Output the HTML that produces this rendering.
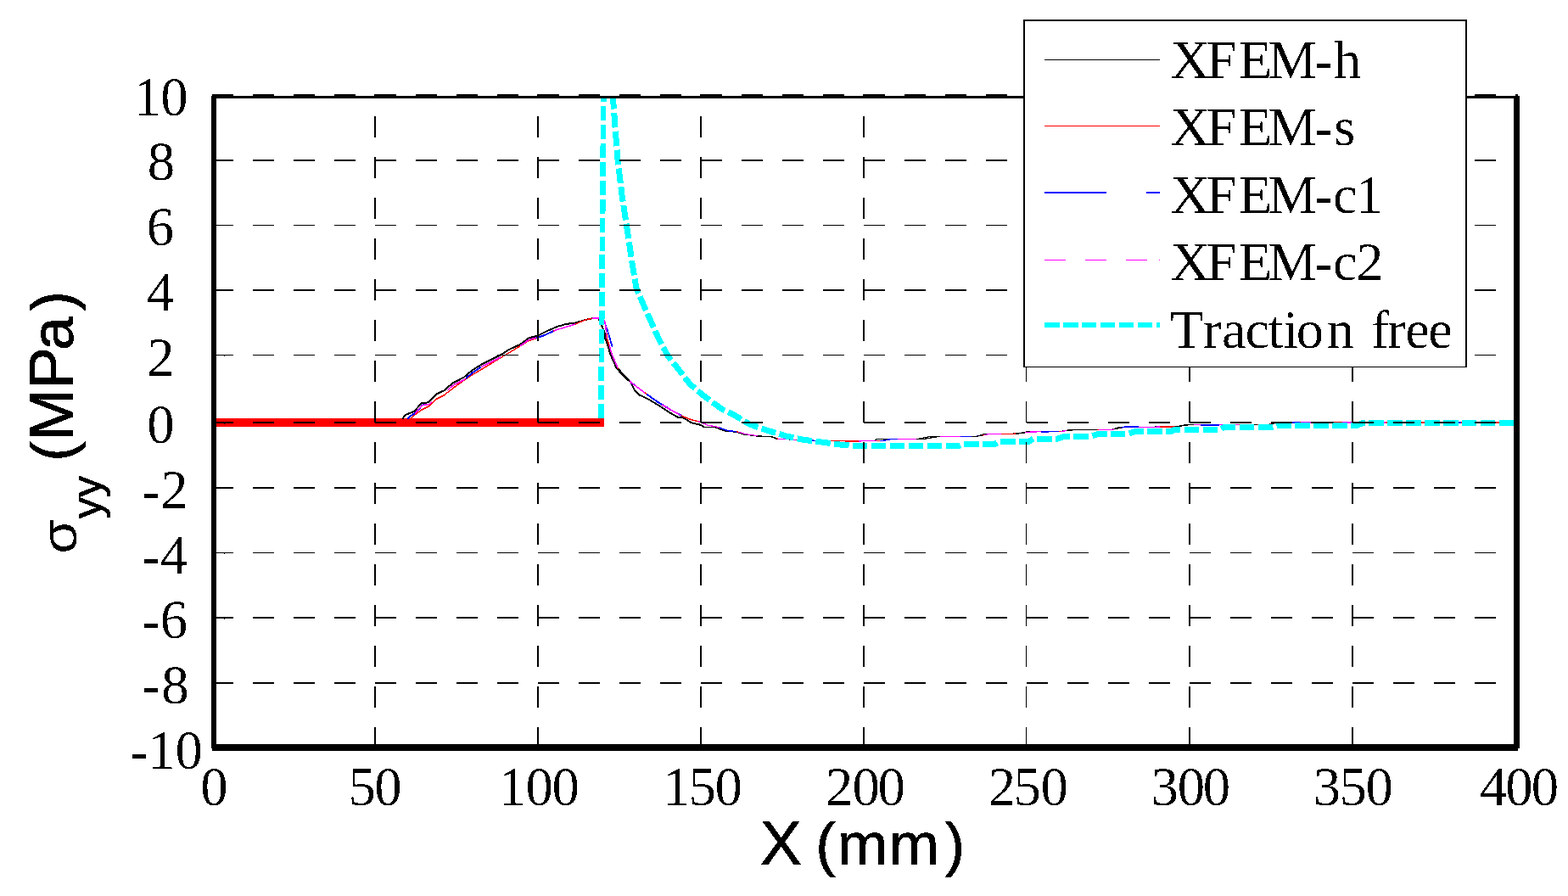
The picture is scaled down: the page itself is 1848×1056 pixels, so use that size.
<!DOCTYPE html>
<html lang="en"><head><meta charset="utf-8"><title>Stress along crack line</title>
<style>html,body{margin:0;padding:0;background:#fff}body{width:1848px;height:1056px}svg{display:block}</style>
</head><body>
<svg width="1848" height="1056" viewBox="0 0 1848 1056" role="img" aria-label="Stress versus X chart">
<defs><clipPath id="plot"><rect x="255" y="116" width="1529" height="761"/></clipPath><filter id="bin" x="0" y="0" width="1848" height="1056" filterUnits="userSpaceOnUse" color-interpolation-filters="sRGB"><feComponentTransfer><feFuncA type="discrete" tableValues="0 1"/></feComponentTransfer></filter><filter id="bin2" x="0" y="0" width="1848" height="1056" filterUnits="userSpaceOnUse" color-interpolation-filters="sRGB"><feComponentTransfer><feFuncA type="discrete" tableValues="0 0 0 1 1"/></feComponentTransfer></filter></defs>
<rect width="1848" height="1056" fill="#fff"/>
<g clip-path="url(#plot)" shape-rendering="crispEdges" fill="none">
<rect x="255" y="493" width="457" height="10" fill="#f00"/>
<clipPath id="cb"><rect x="480" y="116" width="10" height="761"/><rect x="492.5" y="116" width="10.8" height="761"/><rect x="549" y="116" width="18" height="761"/><rect x="632" y="116" width="20" height="761"/><rect x="743" y="116" width="5" height="761"/><rect x="762" y="116" width="29" height="761"/><rect x="800" y="116" width="3" height="761"/><rect x="848" y="116" width="20" height="761"/><rect x="956" y="116" width="5" height="761"/><rect x="1037" y="116" width="21" height="761"/><rect x="1132" y="116" width="21" height="761"/><rect x="1227" y="116" width="21" height="761"/><rect x="1320" y="116" width="22" height="761"/><rect x="1415" y="116" width="22" height="761"/><rect x="1523" y="116" width="9" height="761"/><rect x="1717" y="116" width="5" height="761"/></clipPath><clipPath id="cm"><rect x="489" y="116" width="20" height="761"/><rect x="527.5" y="116" width="20.8" height="761"/><rect x="567.5" y="116" width="22.5" height="761"/><rect x="613" y="116" width="19" height="761"/><rect x="653" y="116" width="25" height="761"/><rect x="698" y="116" width="9" height="761"/><rect x="712" y="116" width="3" height="761"/><rect x="718" y="116" width="10" height="761"/><rect x="741.7" y="116" width="18.3" height="761"/><rect x="780" y="116" width="22.5" height="761"/><rect x="823" y="116" width="25" height="761"/><rect x="870" y="116" width="23" height="761"/><rect x="917" y="116" width="21" height="761"/><rect x="1012" y="116" width="21" height="761"/><rect x="1058" y="116" width="25" height="761"/><rect x="1107" y="116" width="25" height="761"/><rect x="1160" y="116" width="20" height="761"/><rect x="1208" y="116" width="19" height="761"/><rect x="1250" y="116" width="12" height="761"/><rect x="1295" y="116" width="18" height="761"/><rect x="1342" y="116" width="25" height="761"/><rect x="1407" y="116" width="8" height="761"/><rect x="1437" y="116" width="6" height="761"/><rect x="1455" y="116" width="5" height="761"/><rect x="1498" y="116" width="5" height="761"/><rect x="1533" y="116" width="12" height="761"/><rect x="1582" y="116" width="11" height="761"/><rect x="1630" y="116" width="3" height="761"/><rect x="1783" y="116" width="2" height="761"/></clipPath><clipPath id="ck"><rect x="729" y="116" width="13" height="761"/><rect x="893" y="116" width="22" height="761"/><rect x="1080" y="116" width="28" height="761"/><rect x="1145" y="116" width="13" height="761"/><rect x="1197" y="116" width="11" height="761"/><rect x="1257" y="116" width="36" height="761"/><rect x="1313" y="116" width="9" height="761"/><rect x="1385" y="116" width="22" height="761"/><rect x="1477" y="116" width="5" height="761"/><rect x="1498" y="116" width="25" height="761"/><rect x="1545" y="116" width="27" height="761"/></clipPath>
<clipPath id="cl"><rect x="255" y="116" width="575" height="761"/></clipPath><clipPath id="cr"><rect x="830" y="116" width="954" height="761"/></clipPath>
<g clip-path="url(#cl)">
<path d="M474.2 493.5 L478.3 488.8 L488.3 484.7 L496.7 475.3 L505 474.2 L514.2 464.5 L523.3 460.3 L533.3 451.7 L546.7 444.7 L556.7 436.3 L566.7 430 L578.3 424.2 L590 418.3 L600 412 L613.3 405.8 L623.3 398.3 L633.3 395.8 L645 390 L656.7 385 L666.7 382 L678.3 380.5 L690 377 L698.3 375.2 L705 375 L709.2 384 L712.5 391.5 L713.3 399 L716.7 408.2 L719.2 417.3 L723.3 426.5 L726.7 434 L731.7 439.5 L743.3 450.8 L747.5 459.2 L754.2 465.8 L763.3 470 L771.7 475 L780 480 L788.3 485.8 L799.2 492 L805 492 L815 498.3 L825.8 500.8 L830 503.3 L841.7 503.3 L855 508.3 L868.3 509.2 L875 511.7 L893.3 514.2 L908.3 514.5 L915 517.2 L966.7 519.7 L1030 519.7 L1033.3 517.5 L1083 517.2 L1095 514.7 L1150 514.5 L1160 511.7 L1200 511 L1210 509 L1250 508.5 L1260 506.7 L1310 506.5 L1320 503.3 L1385 503 L1396.7 500.8 L1495 500.8 L1500 498 L1784 498" stroke="#000" stroke-width="2"/>
<path d="M484 493.5 L490 488 L497 483 L505 479 L514 470.5 L523 466 L540 453 L556.7 441.7 L568 435 L590 421.7 L610 409.7 L623 401.7 L640 395.8 L655 389 L676.7 382.5 L690 377 L698.3 375.2 L706 375 L712.5 378 L713.8 384 L714.6 391.5 L715.3 399 L718.5 408.2 L721 417.3 L725 426.5 L728.3 434 L733 440 L743.3 450.4 L759.2 462.5 L775.8 474.2 L788.3 481.7 L803.3 490 L813.3 494.2 L825.8 497.5 L834 501.2 L845 503 L857 507.5 L870 509 L878 511.5 L895 514 L910 514.8 L917 517.2 L966.7 519.7 L1010 520 L1040 519.5 L1050 517.5 L1090 517.2 L1105 514.7 L1150 514.5 L1165 511.7 L1200 511 L1215 509 L1250 508.5 L1265 506.7 L1310 506.5 L1325 503.3 L1385 503 L1400 500.8 L1495 500.8 L1505 498 L1784 498" stroke="#f00" stroke-width="1.5"/>
<path d="M480 493.5 L484 490 L489.3 487 L497.7 477.6 L506 476.5 L515.2 466.8 L524.3 462.6 L534.3 454 L547.7 447 L557.7 438.6 L567.7 432.3 L579.3 426.5 L591 420.6 L613.3 407.5 L623.3 400.5 L640 395.8 L655 389 L676.7 382.5 L690 377 L698.3 375.2 L706 375 L712.5 378 L713.8 384 L714.6 391.5 L715.3 399 L718.5 408.2 L721 417.3 L725 426.5 L728.3 434 L733 440 L743.3 450.4 L759.2 462.5 L775.8 474.2 L788.3 481.7 L803.3 490 L813.3 494.2 L825.8 497.5 L834 501.2 L845 503 L857 507.5 L870 509 L878 511.5 L895 514 L910 514.8 L917 517.2 L966.7 519.7 L1010 520 L1040 519.5 L1050 517.5 L1090 517.2 L1105 514.7 L1150 514.5 L1165 511.7 L1200 511 L1215 509 L1250 508.5 L1265 506.7 L1310 506.5 L1325 503.3 L1385 503 L1400 500.8 L1495 500.8 L1505 498 L1784 498" stroke="#00f" stroke-width="2" clip-path="url(#cb)"/>
<path d="M713.5 383 L715.8 389 L718.3 397.3 L721.7 409" stroke="#00f" stroke-width="1.8"/>
<path d="M480 493.5 L484 490 L489.3 487 L497.7 477.6 L506 476.5 L515.2 466.8 L524.3 462.6 L534.3 454 L547.7 447 L557.7 438.6 L567.7 432.3 L579.3 426.5 L591 420.6 L613.3 407.5 L623.3 400.5 L640 395.8 L655 389 L676.7 382.5 L690 377 L698.3 375.2 L706 375 L712.5 378 L713.8 384 L714.6 391.5 L715.3 399 L718.5 408.2 L721 417.3 L725 426.5 L728.3 434 L733 440 L743.3 450.4 L759.2 462.5 L775.8 474.2 L788.3 481.7 L803.3 490 L813.3 494.2 L825.8 497.5 L834 501.2 L845 503 L857 507.5 L870 509 L878 511.5 L895 514 L910 514.8 L917 517.2 L966.7 519.7 L1010 520 L1040 519.5 L1050 517.5 L1090 517.2 L1105 514.7 L1150 514.5 L1165 511.7 L1200 511 L1215 509 L1250 508.5 L1265 506.7 L1310 506.5 L1325 503.3 L1385 503 L1400 500.8 L1495 500.8 L1505 498 L1784 498" stroke="#f0f" stroke-width="1.6" clip-path="url(#cm)"/>
<path d="M480 493.5 L484 490 L489.3 487 L497.7 477.6 L506 476.5 L515.2 466.8 L524.3 462.6 L534.3 454 L547.7 447 L557.7 438.6 L567.7 432.3 L579.3 426.5 L591 420.6 L613.3 407.5 L623.3 400.5 L640 395.8 L655 389 L676.7 382.5 L690 377 L698.3 375.2 L706 375 L712.5 378 L713.8 384 L714.6 391.5 L715.3 399 L718.5 408.2 L721 417.3 L725 426.5 L728.3 434 L733 440 L743.3 450.4 L759.2 462.5 L775.8 474.2 L788.3 481.7 L803.3 490 L813.3 494.2 L825.8 497.5 L834 501.2 L845 503 L857 507.5 L870 509 L878 511.5 L895 514 L910 514.8 L917 517.2 L966.7 519.7 L1010 520 L1040 519.5 L1050 517.5 L1090 517.2 L1105 514.7 L1150 514.5 L1165 511.7 L1200 511 L1215 509 L1250 508.5 L1265 506.7 L1310 506.5 L1325 503.3 L1385 503 L1400 500.8 L1495 500.8 L1505 498 L1784 498" stroke="#000" stroke-width="2" clip-path="url(#ck)"/>
</g>
<g clip-path="url(#cr)">
<path d="M474.2 493.5 L478.3 488.8 L488.3 484.7 L496.7 475.3 L505 474.2 L514.2 464.5 L523.3 460.3 L533.3 451.7 L546.7 444.7 L556.7 436.3 L566.7 430 L578.3 424.2 L590 418.3 L600 412 L613.3 405.8 L623.3 398.3 L633.3 395.8 L645 390 L656.7 385 L666.7 382 L678.3 380.5 L690 377 L698.3 375.2 L705 375 L709.2 384 L712.5 391.5 L713.3 399 L716.7 408.2 L719.2 417.3 L723.3 426.5 L726.7 434 L731.7 439.5 L743.3 450.8 L747.5 459.2 L754.2 465.8 L763.3 470 L771.7 475 L780 480 L788.3 485.8 L799.2 492 L805 492 L815 498.3 L825.8 500.8 L830 503.3 L841.7 503.3 L855 508.3 L868.3 509.2 L875 511.7 L893.3 514.2 L908.3 514.5 L915 517.2 L966.7 519.7 L1030 519.7 L1033.3 517.5 L1083 517.2 L1095 514.7 L1150 514.5 L1160 511.7 L1200 511 L1210 509 L1250 508.5 L1260 506.7 L1310 506.5 L1320 503.3 L1385 503 L1396.7 500.8 L1495 500.8 L1500 498 L1784 498" stroke="#000" stroke-width="1.2"/>
<path d="M484 493.5 L490 488 L497 483 L505 479 L514 470.5 L523 466 L540 453 L556.7 441.7 L568 435 L590 421.7 L610 409.7 L623 401.7 L640 395.8 L655 389 L676.7 382.5 L690 377 L698.3 375.2 L706 375 L712.5 378 L713.8 384 L714.6 391.5 L715.3 399 L718.5 408.2 L721 417.3 L725 426.5 L728.3 434 L733 440 L743.3 450.4 L759.2 462.5 L775.8 474.2 L788.3 481.7 L803.3 490 L813.3 494.2 L825.8 497.5 L834 501.2 L845 503 L857 507.5 L870 509 L878 511.5 L895 514 L910 514.8 L917 517.2 L966.7 519.7 L1010 520 L1040 519.5 L1050 517.5 L1090 517.2 L1105 514.7 L1150 514.5 L1165 511.7 L1200 511 L1215 509 L1250 508.5 L1265 506.7 L1310 506.5 L1325 503.3 L1385 503 L1400 500.8 L1495 500.8 L1505 498 L1784 498" stroke="#f00" stroke-width="1.2"/>
<path d="M480 493.5 L484 490 L489.3 487 L497.7 477.6 L506 476.5 L515.2 466.8 L524.3 462.6 L534.3 454 L547.7 447 L557.7 438.6 L567.7 432.3 L579.3 426.5 L591 420.6 L613.3 407.5 L623.3 400.5 L640 395.8 L655 389 L676.7 382.5 L690 377 L698.3 375.2 L706 375 L712.5 378 L713.8 384 L714.6 391.5 L715.3 399 L718.5 408.2 L721 417.3 L725 426.5 L728.3 434 L733 440 L743.3 450.4 L759.2 462.5 L775.8 474.2 L788.3 481.7 L803.3 490 L813.3 494.2 L825.8 497.5 L834 501.2 L845 503 L857 507.5 L870 509 L878 511.5 L895 514 L910 514.8 L917 517.2 L966.7 519.7 L1010 520 L1040 519.5 L1050 517.5 L1090 517.2 L1105 514.7 L1150 514.5 L1165 511.7 L1200 511 L1215 509 L1250 508.5 L1265 506.7 L1310 506.5 L1325 503.3 L1385 503 L1400 500.8 L1495 500.8 L1505 498 L1784 498" stroke="#00f" stroke-width="1.6" clip-path="url(#cb)"/>
<path d="M480 493.5 L484 490 L489.3 487 L497.7 477.6 L506 476.5 L515.2 466.8 L524.3 462.6 L534.3 454 L547.7 447 L557.7 438.6 L567.7 432.3 L579.3 426.5 L591 420.6 L613.3 407.5 L623.3 400.5 L640 395.8 L655 389 L676.7 382.5 L690 377 L698.3 375.2 L706 375 L712.5 378 L713.8 384 L714.6 391.5 L715.3 399 L718.5 408.2 L721 417.3 L725 426.5 L728.3 434 L733 440 L743.3 450.4 L759.2 462.5 L775.8 474.2 L788.3 481.7 L803.3 490 L813.3 494.2 L825.8 497.5 L834 501.2 L845 503 L857 507.5 L870 509 L878 511.5 L895 514 L910 514.8 L917 517.2 L966.7 519.7 L1010 520 L1040 519.5 L1050 517.5 L1090 517.2 L1105 514.7 L1150 514.5 L1165 511.7 L1200 511 L1215 509 L1250 508.5 L1265 506.7 L1310 506.5 L1325 503.3 L1385 503 L1400 500.8 L1495 500.8 L1505 498 L1784 498" stroke="#f0f" stroke-width="1.2" clip-path="url(#cm)"/>
<path d="M480 493.5 L484 490 L489.3 487 L497.7 477.6 L506 476.5 L515.2 466.8 L524.3 462.6 L534.3 454 L547.7 447 L557.7 438.6 L567.7 432.3 L579.3 426.5 L591 420.6 L613.3 407.5 L623.3 400.5 L640 395.8 L655 389 L676.7 382.5 L690 377 L698.3 375.2 L706 375 L712.5 378 L713.8 384 L714.6 391.5 L715.3 399 L718.5 408.2 L721 417.3 L725 426.5 L728.3 434 L733 440 L743.3 450.4 L759.2 462.5 L775.8 474.2 L788.3 481.7 L803.3 490 L813.3 494.2 L825.8 497.5 L834 501.2 L845 503 L857 507.5 L870 509 L878 511.5 L895 514 L910 514.8 L917 517.2 L966.7 519.7 L1010 520 L1040 519.5 L1050 517.5 L1090 517.2 L1105 514.7 L1150 514.5 L1165 511.7 L1200 511 L1215 509 L1250 508.5 L1265 506.7 L1310 506.5 L1325 503.3 L1385 503 L1400 500.8 L1495 500.8 L1505 498 L1784 498" stroke="#000" stroke-width="1.3" clip-path="url(#ck)"/>
</g>
<path d="M708.3 493 L711.3 111" stroke="#0ff" stroke-width="6.6" stroke-dasharray="17 4.94"/>
<path d="M722.1 111 L722.5 116 L725 150 L728 188 L733 230 L740 276 L745 310 L750 340 L760.5 364 L776.7 400 L787.5 420 L801 437 L813 452.5 L827.5 465 L850 481.7 L866.7 490 L883.3 500 L905 507.5 L926.7 514 L946.7 518.3 L966.7 520.8 L990 524 L1008 525.5 L1130 525.5 L1135 523 L1173 523 L1178 520 L1213 520 L1218 517 L1246.7 517 L1255 514 L1286.7 514 L1295 511.3 L1330 511.3 L1336.7 508.8 L1380 508.5 L1385 506.2 L1438 506.2 L1443 503.3 L1500 503.3 L1505 501.2 L1600 501.2 L1607 498 L1786 498" stroke="#0ff" stroke-width="7" stroke-dasharray="17.6 4.34"/>
</g>
<g shape-rendering="crispEdges" fill="#000">
<path d="M250 111h25v2h-25zM298 111h25v2h-25zM346 111h25v2h-25zM394 111h25v2h-25zM442 111h25v2h-25zM490 111h25v2h-25zM538 111h25v2h-25zM586 111h25v2h-25zM634 111h25v2h-25zM682 111h25v2h-25zM730 111h25v2h-25zM778 111h25v2h-25zM826 111h25v2h-25zM874 111h25v2h-25zM922 111h25v2h-25zM970 111h25v2h-25zM1018 111h25v2h-25zM1066 111h25v2h-25zM1114 111h25v2h-25zM1162 111h25v2h-25zM1210 111h25v2h-25zM1258 111h25v2h-25zM1306 111h25v2h-25zM1354 111h25v2h-25zM1402 111h25v2h-25zM1450 111h25v2h-25zM1498 111h25v2h-25zM1546 111h25v2h-25zM1594 111h25v2h-25zM1642 111h25v2h-25zM1690 111h25v2h-25zM1738 111h25v2h-25zM250 188h25v2h-25zM298 188h25v2h-25zM346 188h25v2h-25zM394 188h25v2h-25zM442 188h25v2h-25zM490 188h25v2h-25zM538 188h25v2h-25zM586 188h25v2h-25zM634 188h25v2h-25zM682 188h25v2h-25zM730 188h25v2h-25zM778 188h25v2h-25zM826 188h25v2h-25zM874 188h25v2h-25zM922 188h25v2h-25zM970 188h25v2h-25zM1018 188h25v2h-25zM1066 188h25v2h-25zM1114 188h25v2h-25zM1162 188h25v2h-25zM1210 188h25v2h-25zM1258 188h25v2h-25zM1306 188h25v2h-25zM1354 188h25v2h-25zM1402 188h25v2h-25zM1450 188h25v2h-25zM1498 188h25v2h-25zM1546 188h25v2h-25zM1594 188h25v2h-25zM1642 188h25v2h-25zM1690 188h25v2h-25zM1738 188h25v2h-25zM250 265h25v1h-25zM298 265h25v1h-25zM346 265h25v1h-25zM394 265h25v1h-25zM442 265h25v1h-25zM490 265h25v1h-25zM538 265h25v1h-25zM586 265h25v1h-25zM634 265h25v1h-25zM682 265h25v1h-25zM730 265h25v1h-25zM778 265h25v1h-25zM826 265h25v1h-25zM874 265h25v1h-25zM922 265h25v1h-25zM970 265h25v1h-25zM1018 265h25v1h-25zM1066 265h25v1h-25zM1114 265h25v1h-25zM1162 265h25v1h-25zM1210 265h25v1h-25zM1258 265h25v1h-25zM1306 265h25v1h-25zM1354 265h25v1h-25zM1402 265h25v1h-25zM1450 265h25v1h-25zM1498 265h25v1h-25zM1546 265h25v1h-25zM1594 265h25v1h-25zM1642 265h25v1h-25zM1690 265h25v1h-25zM1738 265h25v1h-25zM250 341h25v2h-25zM298 341h25v2h-25zM346 341h25v2h-25zM394 341h25v2h-25zM442 341h25v2h-25zM490 341h25v2h-25zM538 341h25v2h-25zM586 341h25v2h-25zM634 341h25v2h-25zM682 341h25v2h-25zM730 341h25v2h-25zM778 341h25v2h-25zM826 341h25v2h-25zM874 341h25v2h-25zM922 341h25v2h-25zM970 341h25v2h-25zM1018 341h25v2h-25zM1066 341h25v2h-25zM1114 341h25v2h-25zM1162 341h25v2h-25zM1210 341h25v2h-25zM1258 341h25v2h-25zM1306 341h25v2h-25zM1354 341h25v2h-25zM1402 341h25v2h-25zM1450 341h25v2h-25zM1498 341h25v2h-25zM1546 341h25v2h-25zM1594 341h25v2h-25zM1642 341h25v2h-25zM1690 341h25v2h-25zM1738 341h25v2h-25zM250 418h25v1h-25zM298 418h25v1h-25zM346 418h25v1h-25zM394 418h25v1h-25zM442 418h25v1h-25zM490 418h25v1h-25zM538 418h25v1h-25zM586 418h25v1h-25zM634 418h25v1h-25zM682 418h25v1h-25zM730 418h25v1h-25zM778 418h25v1h-25zM826 418h25v1h-25zM874 418h25v1h-25zM922 418h25v1h-25zM970 418h25v1h-25zM1018 418h25v1h-25zM1066 418h25v1h-25zM1114 418h25v1h-25zM1162 418h25v1h-25zM1210 418h25v1h-25zM1258 418h25v1h-25zM1306 418h25v1h-25zM1354 418h25v1h-25zM1402 418h25v1h-25zM1450 418h25v1h-25zM1498 418h25v1h-25zM1546 418h25v1h-25zM1594 418h25v1h-25zM1642 418h25v1h-25zM1690 418h25v1h-25zM1738 418h25v1h-25zM250 497h25v2h-25zM298 497h25v2h-25zM346 497h25v2h-25zM394 497h25v2h-25zM442 497h25v2h-25zM490 497h25v2h-25zM538 497h25v2h-25zM586 497h25v2h-25zM634 497h25v2h-25zM682 497h25v2h-25zM730 497h25v2h-25zM778 497h25v2h-25zM826 497h25v2h-25zM874 497h25v2h-25zM922 497h25v2h-25zM970 497h25v2h-25zM1018 497h25v2h-25zM1066 497h25v2h-25zM1114 497h25v2h-25zM1162 497h25v2h-25zM1210 497h25v2h-25zM1258 497h25v2h-25zM1306 497h25v2h-25zM1354 497h25v2h-25zM1402 497h25v2h-25zM1450 497h25v2h-25zM1498 497h25v2h-25zM1546 497h25v2h-25zM1594 497h25v2h-25zM1642 497h25v2h-25zM1690 497h25v2h-25zM1738 497h25v2h-25zM250 574h25v2h-25zM298 574h25v2h-25zM346 574h25v2h-25zM394 574h25v2h-25zM442 574h25v2h-25zM490 574h25v2h-25zM538 574h25v2h-25zM586 574h25v2h-25zM634 574h25v2h-25zM682 574h25v2h-25zM730 574h25v2h-25zM778 574h25v2h-25zM826 574h25v2h-25zM874 574h25v2h-25zM922 574h25v2h-25zM970 574h25v2h-25zM1018 574h25v2h-25zM1066 574h25v2h-25zM1114 574h25v2h-25zM1162 574h25v2h-25zM1210 574h25v2h-25zM1258 574h25v2h-25zM1306 574h25v2h-25zM1354 574h25v2h-25zM1402 574h25v2h-25zM1450 574h25v2h-25zM1498 574h25v2h-25zM1546 574h25v2h-25zM1594 574h25v2h-25zM1642 574h25v2h-25zM1690 574h25v2h-25zM1738 574h25v2h-25zM250 651h25v1h-25zM298 651h25v1h-25zM346 651h25v1h-25zM394 651h25v1h-25zM442 651h25v1h-25zM490 651h25v1h-25zM538 651h25v1h-25zM586 651h25v1h-25zM634 651h25v1h-25zM682 651h25v1h-25zM730 651h25v1h-25zM778 651h25v1h-25zM826 651h25v1h-25zM874 651h25v1h-25zM922 651h25v1h-25zM970 651h25v1h-25zM1018 651h25v1h-25zM1066 651h25v1h-25zM1114 651h25v1h-25zM1162 651h25v1h-25zM1210 651h25v1h-25zM1258 651h25v1h-25zM1306 651h25v1h-25zM1354 651h25v1h-25zM1402 651h25v1h-25zM1450 651h25v1h-25zM1498 651h25v1h-25zM1546 651h25v1h-25zM1594 651h25v1h-25zM1642 651h25v1h-25zM1690 651h25v1h-25zM1738 651h25v1h-25zM250 727h25v2h-25zM298 727h25v2h-25zM346 727h25v2h-25zM394 727h25v2h-25zM442 727h25v2h-25zM490 727h25v2h-25zM538 727h25v2h-25zM586 727h25v2h-25zM634 727h25v2h-25zM682 727h25v2h-25zM730 727h25v2h-25zM778 727h25v2h-25zM826 727h25v2h-25zM874 727h25v2h-25zM922 727h25v2h-25zM970 727h25v2h-25zM1018 727h25v2h-25zM1066 727h25v2h-25zM1114 727h25v2h-25zM1162 727h25v2h-25zM1210 727h25v2h-25zM1258 727h25v2h-25zM1306 727h25v2h-25zM1354 727h25v2h-25zM1402 727h25v2h-25zM1450 727h25v2h-25zM1498 727h25v2h-25zM1546 727h25v2h-25zM1594 727h25v2h-25zM1642 727h25v2h-25zM1690 727h25v2h-25zM1738 727h25v2h-25zM250 804h25v2h-25zM298 804h25v2h-25zM346 804h25v2h-25zM394 804h25v2h-25zM442 804h25v2h-25zM490 804h25v2h-25zM538 804h25v2h-25zM586 804h25v2h-25zM634 804h25v2h-25zM682 804h25v2h-25zM730 804h25v2h-25zM778 804h25v2h-25zM826 804h25v2h-25zM874 804h25v2h-25zM922 804h25v2h-25zM970 804h25v2h-25zM1018 804h25v2h-25zM1066 804h25v2h-25zM1114 804h25v2h-25zM1162 804h25v2h-25zM1210 804h25v2h-25zM1258 804h25v2h-25zM1306 804h25v2h-25zM1354 804h25v2h-25zM1402 804h25v2h-25zM1450 804h25v2h-25zM1498 804h25v2h-25zM1546 804h25v2h-25zM1594 804h25v2h-25zM1642 804h25v2h-25zM1690 804h25v2h-25zM1738 804h25v2h-25zM441 111h2v3h-2zM441 137h2v25h-2zM441 185h2v25h-2zM441 233h2v25h-2zM441 281h2v25h-2zM441 329h2v25h-2zM441 377h2v25h-2zM441 425h2v25h-2zM441 473h2v25h-2zM441 521h2v25h-2zM441 569h2v25h-2zM441 617h2v25h-2zM441 665h2v25h-2zM441 713h2v25h-2zM441 761h2v25h-2zM441 809h2v25h-2zM441 857h2v25h-2zM633 111h2v3h-2zM633 137h2v25h-2zM633 185h2v25h-2zM633 233h2v25h-2zM633 281h2v25h-2zM633 329h2v25h-2zM633 377h2v25h-2zM633 425h2v25h-2zM633 473h2v25h-2zM633 521h2v25h-2zM633 569h2v25h-2zM633 617h2v25h-2zM633 665h2v25h-2zM633 713h2v25h-2zM633 761h2v25h-2zM633 809h2v25h-2zM633 857h2v25h-2zM825 111h2v3h-2zM825 137h2v25h-2zM825 185h2v25h-2zM825 233h2v25h-2zM825 281h2v25h-2zM825 329h2v25h-2zM825 377h2v25h-2zM825 425h2v25h-2zM825 473h2v25h-2zM825 521h2v25h-2zM825 569h2v25h-2zM825 617h2v25h-2zM825 665h2v25h-2zM825 713h2v25h-2zM825 761h2v25h-2zM825 809h2v25h-2zM825 857h2v25h-2zM1017 111h2v3h-2zM1017 137h2v25h-2zM1017 185h2v25h-2zM1017 233h2v25h-2zM1017 281h2v25h-2zM1017 329h2v25h-2zM1017 377h2v25h-2zM1017 425h2v25h-2zM1017 473h2v25h-2zM1017 521h2v25h-2zM1017 569h2v25h-2zM1017 617h2v25h-2zM1017 665h2v25h-2zM1017 713h2v25h-2zM1017 761h2v25h-2zM1017 809h2v25h-2zM1017 857h2v25h-2zM1209 111h1v3h-1zM1209 137h1v25h-1zM1209 185h1v25h-1zM1209 233h1v25h-1zM1209 281h1v25h-1zM1209 329h1v25h-1zM1209 377h1v25h-1zM1209 425h1v25h-1zM1209 473h1v25h-1zM1209 521h1v25h-1zM1209 569h1v25h-1zM1209 617h1v25h-1zM1209 665h1v25h-1zM1209 713h1v25h-1zM1209 761h1v25h-1zM1209 809h1v25h-1zM1209 857h1v25h-1zM1401 111h2v3h-2zM1401 137h2v25h-2zM1401 185h2v25h-2zM1401 233h2v25h-2zM1401 281h2v25h-2zM1401 329h2v25h-2zM1401 377h2v25h-2zM1401 425h2v25h-2zM1401 473h2v25h-2zM1401 521h2v25h-2zM1401 569h2v25h-2zM1401 617h2v25h-2zM1401 665h2v25h-2zM1401 713h2v25h-2zM1401 761h2v25h-2zM1401 809h2v25h-2zM1401 857h2v25h-2zM1593 111h2v3h-2zM1593 137h2v25h-2zM1593 185h2v25h-2zM1593 233h2v25h-2zM1593 281h2v25h-2zM1593 329h2v25h-2zM1593 377h2v25h-2zM1593 425h2v25h-2zM1593 473h2v25h-2zM1593 521h2v25h-2zM1593 569h2v25h-2zM1593 617h2v25h-2zM1593 665h2v25h-2zM1593 713h2v25h-2zM1593 761h2v25h-2zM1593 809h2v25h-2zM1593 857h2v25h-2zM1786 111h3v2h-3zM264 419h1v1h-1zM264 499h1v1h-1zM264 652h1v1h-1zM264 729h1v1h-1z"/>
<rect x="249" y="113" width="6" height="769" fill="#000"/>
<rect x="1784" y="113" width="7" height="769" fill="#000"/>
<rect x="249" y="113" width="1542" height="3" fill="#000"/>
<rect x="250" y="877" width="1539" height="8" fill="#000"/>
</g>
<g shape-rendering="crispEdges">
<rect x="1206" y="23" width="523" height="410" fill="#000"/>
<rect x="1208" y="25" width="519" height="407" fill="#fff"/>
<rect x="1231" y="70" width="136" height="1" fill="#000"/>
<rect x="1231" y="148" width="136" height="1" fill="#f00"/>
<rect x="1231" y="226" width="73" height="2" fill="#00f"/>
<rect x="1351" y="226" width="16" height="2" fill="#00f"/>
<rect x="1231" y="306" width="25" height="1" fill="#f0f"/>
<rect x="1279" y="306" width="25" height="1" fill="#f0f"/>
<rect x="1327" y="306" width="25" height="1" fill="#f0f"/>
<rect x="1366" y="306" width="1" height="1" fill="#f0f"/>
<rect x="1231" y="380" width="18" height="6" fill="#0ff"/>
<rect x="1253" y="380" width="18" height="6" fill="#0ff"/>
<rect x="1275" y="380" width="17" height="6" fill="#0ff"/>
<rect x="1297" y="380" width="17" height="6" fill="#0ff"/>
<rect x="1319" y="380" width="17" height="6" fill="#0ff"/>
<rect x="1341" y="380" width="17" height="6" fill="#0ff"/>
<rect x="1363" y="380" width="4" height="6" fill="#0ff"/>
</g>
<g fill="#000" filter="url(#bin2)">
<text x="1379.42 1421.38 1460.01 1494.38 1549.3 1571.91" y="92.2 92.2 92.2 92.2 93.1 92.2" font-family="'Liberation Serif', 'Times New Roman', Times, serif" font-size="64.4">XFEM-h</text>
<text x="1379.42 1421.38 1460.01 1494.38 1549.3 1572.16" y="171.3 171.3 171.3 171.3 172.2 171.3" font-family="'Liberation Serif', 'Times New Roman', Times, serif" font-size="64.4">XFEM-s</text>
<text x="1379.42 1421.38 1460.01 1494.38 1549.3 1571.07 1597.75" y="250.7 250.7 250.7 250.7 251.6 250.7 250.7" font-family="'Liberation Serif', 'Times New Roman', Times, serif" font-size="64.4">XFEM-c1</text>
<text x="1379.42 1421.38 1460.01 1494.38 1549.3 1571.07 1598.26" y="329.7 329.7 329.7 329.7 330.6 329.7 329.7" font-family="'Liberation Serif', 'Times New Roman', Times, serif" font-size="64.4">XFEM-c2</text>
<text x="1379.03 1418.12 1440.02 1467.57 1494.43 1512.24 1527.65 1563.65 1600 1615.79 1635.17 1656.37 1683.22" y="410.3" font-family="'Liberation Serif', 'Times New Roman', Times, serif" font-size="64.4">Traction free</text>
<text x="157.75 189.3" y="136" font-family="'Liberation Serif', 'Times New Roman', Times, serif" font-size="64.8">10</text>
<text x="173.8" y="211.7" font-family="'Liberation Serif', 'Times New Roman', Times, serif" font-size="64.8">8</text>
<text x="172.77" y="289" font-family="'Liberation Serif', 'Times New Roman', Times, serif" font-size="64.8">6</text>
<text x="172.67" y="366" font-family="'Liberation Serif', 'Times New Roman', Times, serif" font-size="64.8">4</text>
<text x="173.31" y="443.3" font-family="'Liberation Serif', 'Times New Roman', Times, serif" font-size="64.8">2</text>
<text x="173.35" y="521.7" font-family="'Liberation Serif', 'Times New Roman', Times, serif" font-size="64.8">0</text>
<text x="167.08 189.16" y="600.1 599.2" font-family="'Liberation Serif', 'Times New Roman', Times, serif" font-size="64.8">-2</text>
<text x="167.08 188.67" y="677.2 676.3" font-family="'Liberation Serif', 'Times New Roman', Times, serif" font-size="64.8">-4</text>
<text x="167.08 188.77" y="752.6 751.7" font-family="'Liberation Serif', 'Times New Roman', Times, serif" font-size="64.8">-6</text>
<text x="167.08 190.2" y="829.4 828.5" font-family="'Liberation Serif', 'Times New Roman', Times, serif" font-size="64.8">-8</text>
<text x="153.08 174.15 206.55" y="906.8 905.9 905.9" font-family="'Liberation Serif', 'Times New Roman', Times, serif" font-size="64.8">-10</text>
<text x="236.35" y="948.9" font-family="'Liberation Serif', 'Times New Roman', Times, serif" font-size="64.8">0</text>
<text x="410.48 441.3" y="948.9" font-family="'Liberation Serif', 'Times New Roman', Times, serif" font-size="64.8">50</text>
<text x="587.7 619.4 650.4" y="948.9" font-family="'Liberation Serif', 'Times New Roman', Times, serif" font-size="64.8">100</text>
<text x="781.1 811.48 842.4" y="948.9" font-family="'Liberation Serif', 'Times New Roman', Times, serif" font-size="64.8">150</text>
<text x="972.91 1004.4 1034.6" y="948.9" font-family="'Liberation Serif', 'Times New Roman', Times, serif" font-size="64.8">200</text>
<text x="1164.86 1194.38 1226.5" y="948.9" font-family="'Liberation Serif', 'Times New Roman', Times, serif" font-size="64.8">250</text>
<text x="1356.42 1387.7 1417.7" y="948.9" font-family="'Liberation Serif', 'Times New Roman', Times, serif" font-size="64.8">300</text>
<text x="1547.82 1578.43 1609.5" y="948.9" font-family="'Liberation Serif', 'Times New Roman', Times, serif" font-size="64.8">350</text>
<text x="1743.92 1774.2 1804.65" y="948.9" font-family="'Liberation Serif', 'Times New Roman', Times, serif" font-size="64.8">400</text>
</g>
<g fill="#000" filter="url(#bin)">
<text transform="translate(90.4 652.85) rotate(-90) scale(1.1 1)" font-family="'Liberation Sans', Arial, Helvetica, sans-serif" font-size="60">σ</text>
<g stroke="#000" stroke-width="0.7" stroke-linejoin="round">
<text x="895.82 950 961.28 987.01 1047.66 1113.47" y="1018.7" font-family="'Liberation Sans', Arial, Helvetica, sans-serif" font-size="71"><tspan font-size="74">X</tspan> (mm)</text>
<text transform="translate(119.85 0) rotate(-90)" x="-611.14 -586.04" y="0" font-family="'Liberation Sans', Arial, Helvetica, sans-serif" font-size="50.5">yy</text>
<text transform="translate(85.5 0) rotate(-90)" x="-543.82 -519.42 -458.61 -412.75 -366.83" y="0" font-family="'Liberation Sans', Arial, Helvetica, sans-serif" font-size="71">(<tspan font-size="74">MP</tspan>a)</text>
</g>
</g>
</svg>
</body></html>
